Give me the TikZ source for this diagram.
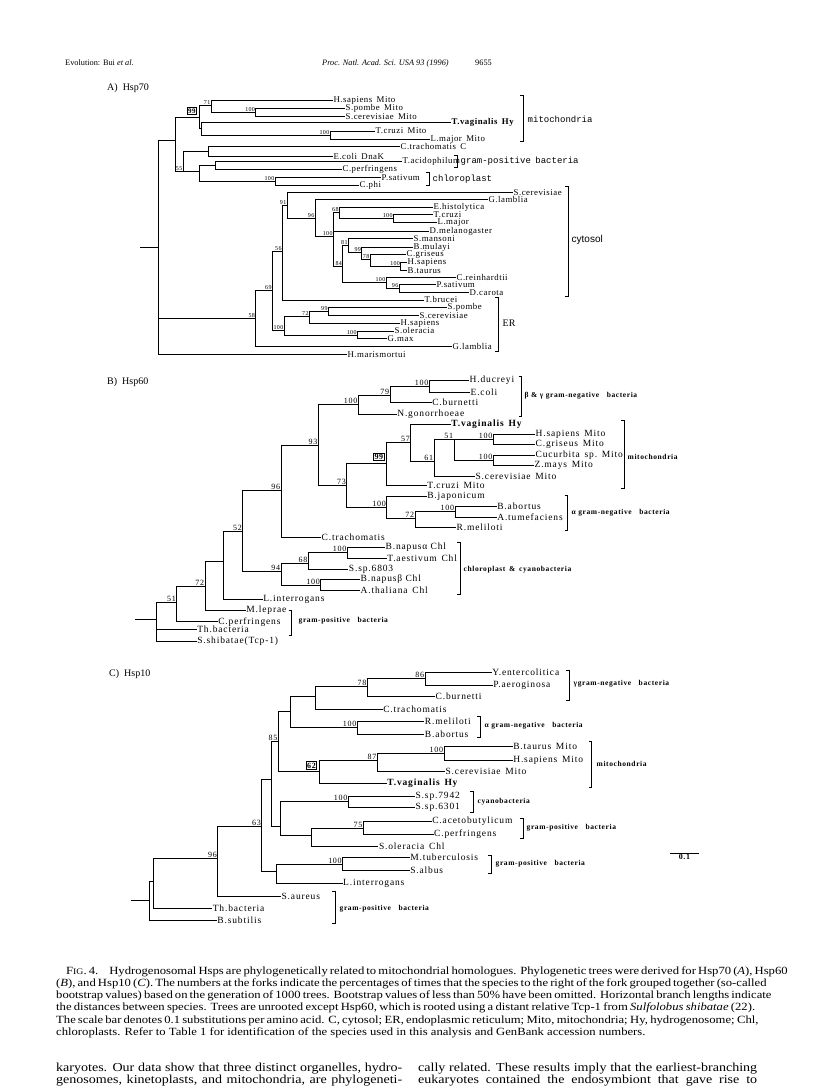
\documentclass[tikz,border=0pt]{standalone}
\usepackage{fontspec}
\setmainfont{Liberation Serif}
\setsansfont{Liberation Sans}
\setmonofont{Liberation Mono}
\newfontfamily\treefont[LetterSpace=6]{Liberation Serif}
\newfontfamily\wideface[LetterSpace=9]{Liberation Serif}
\newfontfamily\cladefont[LetterSpace=8]{Liberation Serif}
\newfontfamily\capfont[FakeStretch=1.15]{Liberation Serif}
\usetikzlibrary{positioning,calc}
\tikzset{
  branch/.style={line width=0.9pt},
  bracket/.style={line width=0.85pt},
  head/.style={anchor=base west,inner sep=0pt,font=\fontsize{8.3}{10}\selectfont},
  panel/.style={anchor=west,inner sep=0pt,font=\fontsize{10}{12}\selectfont},
  leafA/.style={anchor=west,inner sep=0.4pt,font=\treefont\fontsize{8.8}{9}\selectfont},
  hyA/.style={leafA,font=\treefont\bfseries\fontsize{8.8}{9}\selectfont},
  leafB/.style={anchor=west,inner sep=0.4pt,font=\wideface\fontsize{9.5}{10}\selectfont},
  hyB/.style={leafB,font=\wideface\bfseries\fontsize{9.5}{10}\selectfont},
  bootA/.style={anchor=south east,inner sep=0.5pt,font=\treefont\fontsize{6}{6}\selectfont},
  bootB/.style={anchor=south east,inner sep=0.7pt,font=\wideface\fontsize{8}{8}\selectfont},
  boxA/.style={bootA,draw,line width=0.9pt,inner sep=1pt,font=\treefont\bfseries\fontsize{7}{7}\selectfont,xshift=-2pt,yshift=3pt},
  boxB/.style={bootB,draw,line width=0.9pt,inner sep=1pt,font=\wideface\bfseries\fontsize{8}{8}\selectfont,xshift=-2pt,yshift=2pt},
  cladeA/.style={anchor=west,inner sep=0.5pt,font=\ttfamily\fontsize{9}{10}\selectfont},
  clade/.style={anchor=west,inner sep=0.5pt,font=\cladefont\bfseries\fontsize{7.5}{8}\selectfont},
  capline/.style={anchor=base west,inner sep=0pt,font=\capfont\fontsize{11}{12}\selectfont},
  bodyline/.style={anchor=base west,inner sep=0pt,font=\capfont\fontsize{12.2}{14}\selectfont}
}

\begin{document}
\begin{tikzpicture}[x=1pt,y=-1pt]
  \fill[white] (0,0) rectangle (816,1090);
  \useasboundingbox (0,0) rectangle (816,1090);

  \node[head] (hdl) at (65,65) {Evolution: Bui \textit{et al.}};
  \node[head] (hdr) at (322,65) {\textit{Proc. Natl. Acad. Sci. USA 93 (1996)}};
  \node[head] (hdp) at (475,65) {9655};

  % A) Hsp70
  \node[panel] (panA) at (107,88) {A)\enspace Hsp70};
  \coordinate (aroot) at (140,247);
  \coordinate (aR) at (158,247);
  \coordinate (a1) at (175,140.7);
  \coordinate (a99) at (199,117.7);
  \coordinate (a71) at (211,105);
  \coordinate (a100a) at (255.7,112.5);
  \coordinate (aTv) at (201,128);
  \coordinate (a100b) at (330,135);
  \coordinate (a55) at (183,171);
  \coordinate (aCE) at (208,151.5);
  \coordinate (aTP) at (199,171);
  \coordinate (aTC) at (215,165);
  \coordinate (a100c) at (275,181.5);
  \coordinate (a58) at (255.7,318.7);
  \coordinate (a69) at (272.3,290);
  \coordinate (a56) at (282.3,251.7);
  \coordinate (a91) at (287,205);
  \coordinate (a96) at (315,218);
  \coordinate (a100d) at (333.3,236);
  \coordinate (a68) at (339.3,212);
  \coordinate (a100e) at (393.3,218.5);
  \coordinate (a84) at (342.7,266);
  \coordinate (a81) at (348.3,245);
  \coordinate (a99b) at (361.7,252);
  \coordinate (a78) at (370,259);
  \coordinate (a100g) at (400.7,266.7);
  \coordinate (a100f) at (386,282.3);
  \coordinate (a96b) at (399,288.5);
  \coordinate (a100ER) at (284,330);
  \coordinate (a72) at (309.3,316);
  \coordinate (a99c) at (328.3,311);
  \coordinate (a100h) at (357.3,335);

  \node[leafA] (aHsaM) at (333,100.7) {H.sapiens\enspace Mito};
  \node[leafA] (aSpoM) at (345,108.3) {S.pombe\enspace Mito};
  \node[leafA] (aSceM) at (345,116.7) {S.cerevisiae\enspace Mito};
  \node[hyA] (aTvag) at (451,122.5) {T.vaginalis\enspace Hy};
  \node[leafA] (aTcrM) at (375,131) {T.cruzi\enspace Mito};
  \node[leafA] (aLmaM) at (430,139.3) {L.major\enspace Mito};
  \node[leafA] (aCtr) at (400,146.5) {C.trachomatis\enspace C};
  \node[leafA] (aEco) at (333,156.5) {E.coli\enspace DnaK};
  \node[leafA] (aTac) at (402,161) {T.acidophilum};
  \node[leafA] (aCpe) at (342,169) {C.perfringens};
  \node[leafA] (aPsa) at (381,177.5) {P.sativum};
  \node[leafA] (aCph) at (359,185.5) {C.phi};
  \node[leafA] (aSce) at (513,192.7) {S.cerevisiae};
  \node[leafA] (aGla) at (488,199.5) {G.lamblia};
  \node[leafA] (aEhi) at (433,207) {E.histolytica};
  \node[leafA] (aTcr) at (433,214.5) {T.cruzi};
  \node[leafA] (aLma) at (437,222.5) {L.major};
  \node[leafA] (aDme) at (429,231) {D.melanogaster};
  \node[leafA] (aSma) at (413,238.7) {S.mansoni};
  \node[leafA] (aBmu) at (413,247.3) {B.mulayi};
  \node[leafA] (aCgr) at (406,254.7) {C.griseus};
  \node[leafA] (aHsa) at (407,262.7) {H.sapiens};
  \node[leafA] (aBta) at (407,270.7) {B.taurus};
  \node[leafA] (aCre) at (456,277.7) {C.reinhardtii};
  \node[leafA] (aPsb) at (436,284.7) {P.sativum};
  \node[leafA] (aDca) at (469,292.3) {D.carota};
  \node[leafA] (aTbr) at (424,300) {T.brucei};
  \node[leafA] (aSpo) at (447,307.3) {S.pombe};
  \node[leafA] (aSce2) at (419,315.3) {S.cerevisiae};
  \node[leafA] (aHsE) at (400,323.3) {H.sapiens};
  \node[leafA] (aSol) at (394,331) {S.oleracia};
  \node[leafA] (aGma) at (387,338.7) {G.max};
  \node[leafA] (aGlE) at (452,346.5) {G.lamblia};
  \node[leafA] (aHma) at (347,354.3) {H.marismortui};

  \draw[branch] (aroot) -- (aR);
  \draw[branch] (aR) |- (a1) (aR) |- (a58) (aR) |- (aHma);
  \draw[branch] (a1) |- (a99) (a1) |- (a55);
  \draw[branch] (a99) |- (a71) (a99) |- (aTv);
  \draw[branch] (a71) |- (aHsaM) (a71) |- (a100a);
  \draw[branch] (a100a) |- (aSpoM) (a100a) |- (aSceM);
  \draw[branch] (aTv) |- (aTvag) (aTv) |- (a100b);
  \draw[branch] (a100b) |- (aTcrM) (a100b) |- (aLmaM);
  \draw[branch] (a55) |- (aCE) (a55) |- (aTP);
  \draw[branch] (aCE) |- (aCtr) (aCE) |- (aEco);
  \draw[branch] (aTP) |- (aTC) (aTP) |- (a100c);
  \draw[branch] (aTC) |- (aTac) (aTC) |- (aCpe);
  \draw[branch] (a100c) |- (aPsa) (a100c) |- (aCph);
  \draw[branch] (a58) |- (a69) (a58) |- (aGlE);
  \draw[branch] (a69) |- (a56) (a69) |- (a100ER);
  \draw[branch] (a56) |- (a91) (a56) |- (aTbr);
  \draw[branch] (a91) |- (aSce) (a91) |- (a96);
  \draw[branch] (a96) |- (aGla) (a96) |- (a100d);
  \draw[branch] (a100d) |- (a68) (a100d) |- (aDme) (a100d) |- (a84);
  \draw[branch] (a68) |- (aEhi) (a68) |- (a100e);
  \draw[branch] (a100e) |- (aTcr) (a100e) |- (aLma);
  \draw[branch] (a84) |- (a81) (a84) |- (a100f);
  \draw[branch] (a81) |- (aSma) (a81) |- (a99b);
  \draw[branch] (a99b) |- (aBmu) (a99b) |- (a78);
  \draw[branch] (a78) |- (aCgr) (a78) |- (a100g);
  \draw[branch] (a100g) |- (aHsa) (a100g) |- (aBta);
  \draw[branch] (a100f) |- (aCre) (a100f) |- (a96b);
  \draw[branch] (a96b) |- (aPsb) (a96b) |- (aDca);
  \draw[branch] (a100ER) |- (a72) (a100ER) |- (a100h);
  \draw[branch] (a72) |- (a99c) (a72) |- (aHsE);
  \draw[branch] (a99c) |- (aSpo) (a99c) |- (aSce2);
  \draw[branch] (a100h) |- (aSol) (a100h) |- (aGma);

  \node[boxA] (ba99) at (a99) {99};
  \node[bootA] (ba71) at (a71) {71};
  \node[bootA] (ba100a) at (a100a) {100};
  \node[bootA] (ba100b) at (a100b) {100};
  \node[bootA] (ba55) at (a55) {55};
  \node[bootA] (ba100c) at (a100c) {100};
  \node[bootA] (ba91) at (a91) {91};
  \node[bootA] (ba96) at (a96) {96};
  \node[bootA] (ba68) at (a68) {68};
  \node[bootA] (ba100e) at (a100e) {100};
  \node[bootA] (ba100d) at (a100d) {100};
  \node[bootA] (ba81) at (a81) {81};
  \node[bootA] (ba99b) at (a99b) {99};
  \node[bootA] (ba78) at (a78) {78};
  \node[bootA] (ba100g) at (a100g) {100};
  \node[bootA] (ba84) at (a84) {84};
  \node[bootA] (ba100f) at (a100f) {100};
  \node[bootA] (ba96b) at (a96b) {96};
  \node[bootA] (ba56) at (a56) {56};
  \node[bootA] (ba69) at (a69) {69};
  \node[bootA] (ba58) at (a58) {58};
  \node[bootA] (ba72) at (a72) {72};
  \node[bootA] (ba99c) at (a99c) {99};
  \node[bootA] (ba100ER) at (a100ER) {100};
  \node[bootA] (ba100h) at (a100h) {100};

  \draw[bracket] (520,95) -| (523,141) -- (520,141);
  \draw[bracket] (454,155) -| (457,167) -- (454,167);
  \draw[bracket] (426,172) -| (429,185) -- (426,185);
  \draw[bracket] (565,186) -| (568,296) -- (565,296);
  \draw[bracket] (495,297.7) -| (498,351.7) -- (495,351.7);
  \node[cladeA] (kAmito) at (527,119) {mitochondria};
  \node[cladeA] (kAgram) at (460,161) {gram-positive\enspace bacteria};
  \node[cladeA] (kAchl) at (432,179) {chloroplast};
  \node[anchor=west,inner sep=0.5pt,font=\sffamily\fontsize{10}{10}\selectfont] (kAcyt) at (571,240) {cytosol};
  \node[anchor=west,inner sep=0.5pt,font=\fontsize{10}{10}\selectfont] (kAer) at (502,323) {ER};

  % B) Hsp60
  \node[panel] (panB) at (107,382) {B)\enspace Hsp60};
  \coordinate (brootS) at (135,619.3);
  \coordinate (bR) at (156.7,619.3);
  \coordinate (b51) at (176.7,602.7);
  \coordinate (b72) at (205,586.7);
  \coordinate (bX) at (223.3,561.7);
  \coordinate (b52) at (242.7,531.7);
  \coordinate (b96) at (281,490);
  \coordinate (b93) at (318.3,445);
  \coordinate (b100a) at (358.3,404);
  \coordinate (b79) at (390,395);
  \coordinate (b100b) at (429.3,386.7);
  \coordinate (b73) at (346.7,485);
  \coordinate (b99) at (386.7,463.3);
  \coordinate (b57) at (410.7,442.7);
  \coordinate (b61) at (434,461.7);
  \coordinate (b51b) at (454,439.2);
  \coordinate (b100c) at (493.3,439.2);
  \coordinate (b100d) at (493.3,460.3);
  \coordinate (b100e) at (386.7,507.3);
  \coordinate (b72c) at (415,518.3);
  \coordinate (b100f) at (455,511.7);
  \coordinate (b94) at (281,571.7);
  \coordinate (b68) at (308.3,563.3);
  \coordinate (b100g) at (347.3,552.7);
  \coordinate (b100h) at (320.7,585);

  \node[leafB] (bHdu) at (469,380) {H.ducreyi};
  \node[leafB] (bEco) at (470,392.7) {E.coli};
  \node[leafB] (bCbu) at (431.7,402.5) {C.burnetti};
  \node[leafB] (bNgo) at (396.7,414.3) {N.gonorrhoeae};
  \node[hyB] (bTva) at (450.7,424.3) {T.vaginalis\enspace Hy};
  \node[leafB] (bHsa) at (535,434) {H.sapiens\enspace Mito};
  \node[leafB] (bCgr) at (535,444.3) {C.griseus\enspace Mito};
  \node[leafB] (bCuc) at (535,455) {Cucurbita\enspace sp.\enspace Mito};
  \node[leafB] (bZma) at (534,465.7) {Z.mays\enspace Mito};
  \node[leafB] (bSce) at (475,476) {S.cerevisiae\enspace Mito};
  \node[leafB] (bTcr) at (426.7,485.5) {T.cruzi\enspace Mito};
  \node[leafB] (bBja) at (426.7,496.7) {B.japonicum};
  \node[leafB] (bBab) at (496.7,506) {B.abortus};
  \node[leafB] (bAtu) at (496.7,517.3) {A.tumefaciens};
  \node[leafB] (bRme) at (456,527.7) {R.meliloti};
  \node[leafB] (bCtr) at (321,537.3) {C.trachomatis};
  \node[leafB] (bBna) at (385,547.3) {B.napusα Chl};
  \node[leafB] (bTae) at (386.7,558.3) {T.aestivum\enspace Chl};
  \node[leafB] (bSsp) at (348.3,569.3) {S.sp.6803};
  \node[leafB] (bBnb) at (360,579.3) {B.napusβ Chl};
  \node[leafB] (bAth) at (360,590.7) {A.thaliana\enspace Chl};
  \node[leafB] (bLin) at (262.7,599.3) {L.interrogans};
  \node[leafB] (bMle) at (245.7,610) {M.leprae};
  \node[leafB] (bCpe) at (217.7,621.7) {C.perfringens};
  \node[leafB] (bThb) at (196.7,629.3) {Th.bacteria};
  \node[leafB] (bSsh) at (196.7,641.3) {S.shibatae(Tcp-1)};

  \draw[branch] (brootS) -- (bR);
  \draw[branch] (bR) |- (b51) (bR) |- (bThb) (bR) |- (bSsh);
  \draw[branch] (b51) |- (b72) (b51) |- (bCpe);
  \draw[branch] (b72) |- (bX) (b72) |- (bMle);
  \draw[branch] (bX) |- (b52) (bX) |- (bLin);
  \draw[branch] (b52) |- (b96) (b52) |- (b94);
  \draw[branch] (b96) |- (b93) (b96) |- (bCtr);
  \draw[branch] (b93) |- (b100a) (b93) |- (b73);
  \draw[branch] (b100a) |- (b79) (b100a) |- (bNgo);
  \draw[branch] (b79) |- (b100b) (b79) |- (bCbu);
  \draw[branch] (b100b) |- (bHdu) (b100b) |- (bEco);
  \draw[branch] (b73) |- (b99) (b73) |- (b100e);
  \draw[branch] (b99) |- (b57) (b99) |- (bTcr);
  \draw[branch] (b57) |- (bTva) (b57) |- (b61);
  \draw[branch] (b61) |- (b51b) (b61) |- (bSce);
  \draw[branch] (b51b) |- (b100c) (b51b) |- (b100d);
  \draw[branch] (b100c) |- (bHsa) (b100c) |- (bCgr);
  \draw[branch] (b100d) |- (bCuc) (b100d) |- (bZma);
  \draw[branch] (b100e) |- (bBja) (b100e) |- (b72c);
  \draw[branch] (b72c) |- (b100f) (b72c) |- (bRme);
  \draw[branch] (b100f) |- (bBab) (b100f) |- (bAtu);
  \draw[branch] (b94) |- (b68) (b94) |- (b100h);
  \draw[branch] (b68) |- (b100g) (b68) |- (bSsp);
  \draw[branch] (b100g) |- (bBna) (b100g) |- (bTae);
  \draw[branch] (b100h) |- (bBnb) (b100h) |- (bAth);

  \node[bootB] (bb100b) at (b100b) {100};
  \node[bootB] (bb79) at (b79) {79};
  \node[bootB] (bb100a) at (b100a) {100};
  \node[bootB] (bb93) at (b93) {93};
  \node[bootB] (bb57) at (b57) {57};
  \node[boxB] (bb99) at (b99) {99};
  \node[bootB] (bb51b) at (b51b) {51};
  \node[bootB] (bb100c) at (b100c) {100};
  \node[bootB] (bb100d) at (b100d) {100};
  \node[bootB] (bb61) at (b61) {61};
  \node[bootB] (bb73) at (b73) {73};
  \node[bootB] (bb100e) at (b100e) {100};
  \node[bootB] (bb72c) at (b72c) {72};
  \node[bootB] (bb100f) at (b100f) {100};
  \node[bootB] (bb96) at (b96) {96};
  \node[bootB] (bb52) at (b52) {52};
  \node[bootB] (bb68) at (b68) {68};
  \node[bootB] (bb100g) at (b100g) {100};
  \node[bootB] (bb94) at (b94) {94};
  \node[bootB] (bb100h) at (b100h) {100};
  \node[bootB] (bb72) at (b72) {72};
  \node[bootB] (bb51) at (b51) {51};

  \draw[bracket] (518.7,376) -| (521.7,416.7) -- (518.7,416.7);
  \draw[bracket] (621.3,420) -| (624.3,488.3) -- (621.3,488.3);
  \draw[bracket] (564.7,495) -| (567.7,530.7) -- (564.7,530.7);
  \draw[bracket] (457,542.7) -| (460,594.3) -- (457,594.3);
  \draw[bracket] (288.7,610) -| (291.7,635) -- (288.7,635);
  \node[clade] (kBbg) at (524,396) {β \& γ gram-negative\quad bacteria};
  \node[clade] (kBmito) at (627,457) {mitochondria};
  \node[clade] (kBa) at (571,513) {α gram-negative\quad bacteria};
  \node[clade] (kBchl) at (463,570) {chloroplast\enspace\&\enspace cyanobacteria};
  \node[clade] (kBgram) at (298,621) {gram-positive\quad bacteria};

  % C) Hsp10
  \node[panel] (panC) at (109,674) {C)\enspace Hsp10};
  \coordinate (crootS) at (130.5,900);
  \coordinate (cR) at (149.8,900);
  \coordinate (cS) at (153.5,881.7);
  \coordinate (c96) at (217.7,858.3);
  \coordinate (c63) at (261.7,826.7);
  \coordinate (cP) at (271.7,779.3);
  \coordinate (c85) at (278.3,741.7);
  \coordinate (cZ) at (290.7,711.7);
  \coordinate (cY) at (315,696);
  \coordinate (c78) at (367.3,686);
  \coordinate (c86) at (425,678.5);
  \coordinate (c100a) at (357.3,727.8);
  \coordinate (c62) at (319.3,771.7);
  \coordinate (c87) at (377.3,760.7);
  \coordinate (c100b) at (444,753.3);
  \coordinate (cCy) at (280,826.7);
  \coordinate (c100c) at (348.3,801.8);
  \coordinate (cR2) at (311.7,835);
  \coordinate (c75) at (363.3,828);
  \coordinate (cQ) at (276.5,871.7);
  \coordinate (c100d) at (342.6,864);

  \node[leafB] (cYen) at (491.7,672.5) {Y.entercolitica};
  \node[leafB] (cPae) at (492.7,685) {P.aeroginosa};
  \node[leafB] (cCbu) at (435,696.7) {C.burnetti};
  \node[leafB] (cCtr) at (382.7,709) {C.trachomatis};
  \node[leafB] (cRme) at (424.3,721.7) {R.meliloti};
  \node[leafB] (cBab) at (424.3,734) {B.abortus};
  \node[leafB] (cBta) at (512.7,746.7) {B.taurus\enspace Mito};
  \node[leafB] (cHsa) at (512.7,760) {H.sapiens\enspace Mito};
  \node[leafB] (cSce) at (445,771.7) {S.cerevisiae\enspace Mito};
  \node[hyB] (cTva) at (386.7,783.3) {T.vaginalis\enspace Hy};
  \node[leafB] (cS79) at (415,796) {S.sp.7942};
  \node[leafB] (cS63) at (415,807.7) {S.sp.6301};
  \node[leafB] (cCac) at (431.7,821.7) {C.acetobutylicum};
  \node[leafB] (cCpe) at (433.5,834) {C.perfringens};
  \node[leafB] (cSol) at (378.4,846.7) {S.oleracia\enspace Chl};
  \node[leafB] (cMtu) at (409.7,857.3) {M.tuberculosis};
  \node[leafB] (cSal) at (409.7,870.7) {S.albus};
  \node[leafB] (cLin) at (342.6,883.3) {L.interrogans};
  \node[leafB] (cSau) at (281,896) {S.aureus};
  \node[leafB] (cThb) at (212.2,908.3) {Th.bacteria};
  \node[leafB] (cBsu) at (216.8,920) {B.subtilis};

  \draw[branch] (crootS) -- (cR);
  \draw[branch] (cR) |- (cS) (cR) |- (cBsu);
  \draw[branch] (cS) |- (c96) (cS) |- (cThb);
  \draw[branch] (c96) |- (c63) (c96) |- (cSau);
  \draw[branch] (c63) |- (cP) (c63) |- (cQ);
  \draw[branch] (cP) |- (c85) (cP) |- (cCy);
  \draw[branch] (c85) |- (cZ) (c85) |- (c62);
  \draw[branch] (cZ) |- (cY) (cZ) |- (c100a);
  \draw[branch] (cY) |- (c78) (cY) |- (cCtr);
  \draw[branch] (c78) |- (c86) (c78) |- (cCbu);
  \draw[branch] (c86) |- (cYen) (c86) |- (cPae);
  \draw[branch] (c100a) |- (cRme) (c100a) |- (cBab);
  \draw[branch] (c62) |- (c87) (c62) |- (cTva);
  \draw[branch] (c87) |- (c100b) (c87) |- (cSce);
  \draw[branch] (c100b) |- (cBta) (c100b) |- (cHsa);
  \draw[branch] (cCy) |- (c100c) (cCy) |- (cR2);
  \draw[branch] (c100c) |- (cS79) (c100c) |- (cS63);
  \draw[branch] (cR2) |- (c75) (cR2) |- (cSol);
  \draw[branch] (c75) |- (cCac) (c75) |- (cCpe);
  \draw[branch] (cQ) |- (c100d) (cQ) |- (cLin);
  \draw[branch] (c100d) |- (cMtu) (c100d) |- (cSal);

  \node[bootB] (bc86) at (c86) {86};
  \node[bootB] (bc78) at (c78) {78};
  \node[bootB] (bc100a) at (c100a) {100};
  \node[bootB] (bc85) at (c85) {85};
  \node[boxB] (bc62) at (c62) {62};
  \node[bootB] (bc87) at (c87) {87};
  \node[bootB] (bc100b) at (c100b) {100};
  \node[bootB] (bc100c) at (c100c) {100};
  \node[bootB] (bc75) at (c75) {75};
  \node[bootB] (bc63) at (c63) {63};
  \node[bootB] (bc100d) at (c100d) {100};
  \node[bootB] (bc96) at (c96) {96};

  \draw[bracket] (566,670) -| (569,700) -- (566,700);
  \draw[bracket] (477,716) -| (480,737) -- (477,737);
  \draw[bracket] (588.7,741) -| (591.7,787) -- (588.7,787);
  \draw[bracket] (470.3,791) -| (473.3,812) -- (470.3,812);
  \draw[bracket] (520,818) -| (523,838) -- (520,838);
  \draw[bracket] (488,855) -| (491,873) -- (488,873);
  \draw[bracket] (332,891.7) -| (335,923.3) -- (332,923.3);
  \node[clade] (kCg) at (573,684) {γgram-negative\quad bacteria};
  \node[clade] (kCa) at (484,726) {α gram-negative\quad bacteria};
  \node[clade] (kCmito) at (596,764) {mitochondria};
  \node[clade] (kCcy) at (477,802) {cyanobacteria};
  \node[clade] (kCg1) at (526,828) {gram-positive\quad bacteria};
  \node[clade] (kCg2) at (495,864) {gram-positive\quad bacteria};
  \node[clade] (kCg3) at (339,909) {gram-positive\quad bacteria};

  \coordinate (sbl) at (670,853);
  \coordinate (sbr) at (699,853);
  \draw[branch] (sbl) -- (sbr);
  \node[anchor=north,inner sep=1pt,font=\cladefont\bfseries\fontsize{8}{8}\selectfont] (sbt) at ($(sbl)!0.5!(sbr)$) {0.1};

  % caption and running text
  \node[capline] (cap1) at (66,974) {\makebox[689pt][s]{F{\fontsize{8.5}{9}\selectfont IG}. 4.\quad Hydrogenosomal Hsps are phylogenetically related to mitochondrial homologues. Phylogenetic trees were derived for Hsp70 (\textit{A}), Hsp60}};
  \node[capline] (cap2) at (56,986) {\makebox[699pt][s]{(\textit{B}), and Hsp10 (\textit{C}). The numbers at the forks indicate the percentages of times that the species to the right of the fork grouped together (so-called}};
  \node[capline] (cap3) at (56,998) {\makebox[699pt][s]{bootstrap values) based on the generation of 1000 trees. Bootstrap values of less than 50\% have been omitted. Horizontal branch lengths indicate}};
  \node[capline] (cap4) at (56,1010.5) {\makebox[699pt][s]{the distances between species. Trees are unrooted except Hsp60, which is rooted using a distant relative Tcp-1 from \textit{Sulfolobus shibatae} (22).}};
  \node[capline] (cap5) at (56,1023) {\makebox[699pt][s]{The scale bar denotes 0.1 substitutions per amino acid. C, cytosol; ER, endoplasmic reticulum; Mito, mitochondria; Hy, hydrogenosome; Chl,}};
  \node[capline] (cap6) at (56,1035) {chloroplasts. Refer to Table 1 for identification of the species used in this analysis and GenBank accession numbers.};
  \node[bodyline] (txl1) at (56,1071) {\makebox[346pt][s]{karyotes. Our data show that three distinct organelles, hydro-}};
  \node[bodyline] (txl2) at (56,1083) {\makebox[346pt][s]{genosomes, kinetoplasts, and mitochondria, are phylogeneti-}};
  \node[bodyline] (txr1) at (418,1071) {\makebox[339pt][s]{cally related. These results imply that the earliest-branching}};
  \node[bodyline] (txr2) at (418,1083) {\makebox[339pt][s]{eukaryotes contained the endosymbiont that gave rise to}};
\end{tikzpicture}
\end{document}
